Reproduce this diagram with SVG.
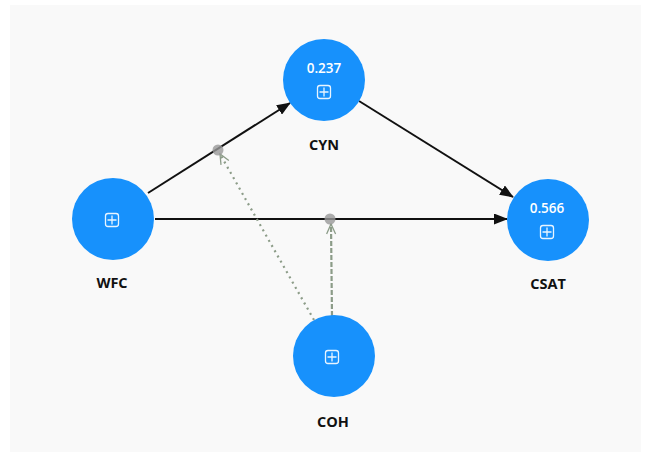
<svg xmlns="http://www.w3.org/2000/svg" width="651" height="454" viewBox="0 0 651 454">
<style>
.node{fill:#1791fc}
.val{font-family:"Open Sans","Noto Sans",sans-serif;font-size:13.5px;font-weight:600;fill:#ffffff;text-anchor:middle}
.lbl{font-family:"Open Sans","Noto Sans",sans-serif;font-size:14.5px;font-weight:700;fill:#111111;text-anchor:middle}
.icon{fill:none;stroke:#ffffff;stroke-width:1.3;opacity:0.9}
.edge{stroke:#111111;stroke-width:2;fill:none}
.mod{stroke:#8c9c88;stroke-width:2.2;fill:none}
.dot{fill:#999999;opacity:0.8}
</style>
<defs>
<marker id="arr" viewBox="0 0 14 11" refX="13" refY="5.5" markerWidth="14" markerHeight="11" markerUnits="userSpaceOnUse" orient="auto">
<path d="M0,0 L14,5.5 L0,11 Z" fill="#111111"/>
</marker>
<marker id="open" viewBox="0 0 12 12" refX="11" refY="6" markerWidth="12" markerHeight="12" markerUnits="userSpaceOnUse" orient="auto">
<path d="M1,1.5 L11,6 L1,10.5" fill="none" stroke="#8c9c88" stroke-width="1.3"/>
</marker>
<g id="ic">
<rect x="-6.5" y="-6.5" width="13" height="13" rx="2.5" class="icon"/>
<path d="M0,-4.5 V4.5 M-4.5,0 H4.5" class="icon"/>
</g>
</defs>
<rect x="0" y="0" width="651" height="454" fill="#ffffff"/>
<rect x="10" y="5" width="631" height="447" fill="#f9f9f9"/>
<g id="connectors">
<line class="edge" x1="148" y1="193" x2="290" y2="103" marker-end="url(#arr)"/>
<line class="edge" x1="359" y1="101" x2="513" y2="197" marker-end="url(#arr)"/>
<line class="edge" x1="155" y1="219" x2="507" y2="219" marker-end="url(#arr)"/>
<line class="mod" x1="314" y1="320" x2="220" y2="154" stroke-dasharray="2,4" marker-end="url(#open)"/>
<line class="mod" x1="332" y1="316" x2="331" y2="224" stroke-dasharray="5,2" marker-end="url(#open)"/>
<circle class="dot" cx="218" cy="150" r="5.5"/>
<circle class="dot" cx="330" cy="219" r="5.5"/>
</g>
<g id="CYN">
<circle class="node" cx="324" cy="80" r="41"/>
<text class="val" x="324" y="73">0.237</text>
<use href="#ic" x="324" y="92"/>
<text class="lbl" x="324" y="150">CYN</text>
</g>
<g id="WFC">
<circle class="node" cx="113" cy="219" r="41"/>
<use href="#ic" x="112" y="220"/>
<text class="lbl" x="112" y="288">WFC</text>
</g>
<g id="CSAT">
<circle class="node" cx="548" cy="220" r="41"/>
<text class="val" x="547" y="213">0.566</text>
<use href="#ic" x="547" y="232"/>
<text class="lbl" x="548" y="289">CSAT</text>
</g>
<g id="COH">
<circle class="node" cx="334" cy="356" r="41"/>
<use href="#ic" x="332" y="357"/>
<text class="lbl" x="333" y="427">COH</text>
</g>
</svg>
